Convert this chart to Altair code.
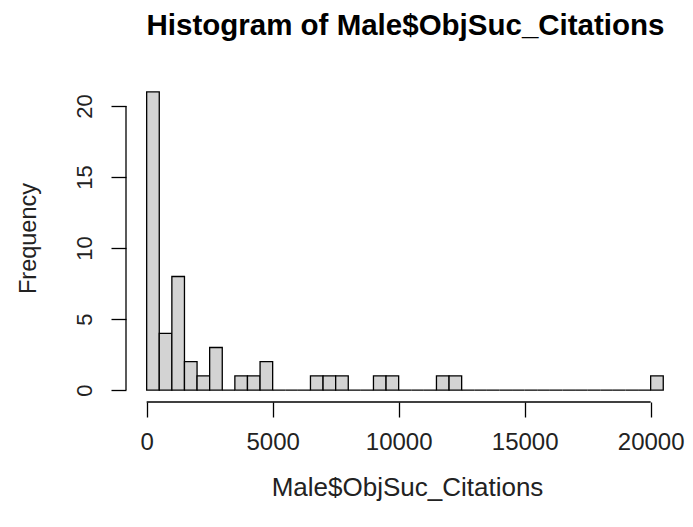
import altair as alt
import pandas as pd

# Histogram bins (width 500) and counts
bin_width = 500
counts = [21, 4, 8, 2, 1, 3, 0, 1, 1, 2,
          0, 0, 0, 1, 1, 1, 0, 0, 1, 1,
          0, 0, 0, 1, 1, 0, 0, 0, 0, 0,
          0, 0, 0, 0, 0, 0, 0, 0, 0, 0,
          1]
bin_start = [i * bin_width for i in range(len(counts))]
x_ticks = [0, 5000, 10000, 15000, 20000]
y_ticks = [0, 5, 10, 15, 20]

df = pd.DataFrame({
    "start": bin_start,
    "end": [s + bin_width for s in bin_start],
    "count": counts,
})

W, H = 559, 322
FONT = "Liberation Sans"
TXT = "#222222"

xscale = alt.Scale(domain=[-820, 21363], nice=False, zero=False)
yscale = alt.Scale(domain=[-0.84, 21.84], nice=False, zero=False)

bars = alt.Chart(df).mark_rect(
    fill="#D3D3D3", stroke="black", strokeWidth=1.3
).encode(
    x=alt.X("start:Q", scale=xscale,
            axis=alt.Axis(values=x_ticks, format="d", domain=False, grid=False,
                          tickSize=15, tickColor="black", tickWidth=1.3,
                          labelFontSize=24, labelFont=FONT, labelColor=TXT,
                          labelPadding=13, labelFlush=False,
                          title="Male$ObjSuc_Citations", titleFont=FONT,
                          titleFontSize=26, titleFontWeight="normal",
                          titleColor=TXT, titleX=281, titleY=85,
                          titleBaseline="middle", titleAlign="center")),
    x2="end:Q",
    y=alt.Y("count:Q", scale=yscale,
            axis=alt.Axis(values=y_ticks, format="d", domain=False, grid=False,
                          tickSize=15, tickColor="black", tickWidth=1.3,
                          labelFontSize=22, labelFont=FONT, labelColor=TXT,
                          labelAngle=270, labelAlign="center",
                          labelBaseline="alphabetic", labelPadding=20,
                          title="Frequency", titleFont=FONT,
                          titleFontSize=23.5, titleFontWeight="normal",
                          titleColor=TXT, titleX=-91, titleY=158,
                          titleAngle=270, titleBaseline="alphabetic",
                          titleAlign="center")),
    y2=alt.datum(0),
)

xaxis_df = pd.DataFrame({"a": [x_ticks[0]], "b": [x_ticks[-1]]})
yaxis_df = pd.DataFrame({"a": [y_ticks[0]], "b": [y_ticks[-1]]})

xline = alt.Chart(xaxis_df).mark_rule(color="black", strokeWidth=1.3).encode(
    x=alt.X("a:Q", scale=xscale), x2="b:Q", y=alt.value(H)
)
yline = alt.Chart(yaxis_df).mark_rule(color="black", strokeWidth=1.3).encode(
    y=alt.Y("a:Q", scale=yscale), y2="b:Q", x=alt.value(0)
)

chart = alt.layer(bars, xline, yline).properties(
    width=W, height=H,
    title=alt.TitleParams("Histogram of Male$ObjSuc_Citations", font=FONT,
                          fontSize=29.5, fontWeight="bold", color="black",
                          anchor="middle", frame="group", offset=39),
    autosize=alt.AutoSizeParams(type="none"),
    padding={"left": 118, "top": 72, "right": 0, "bottom": 100},
).configure(background="white").configure_view(strokeWidth=0, stroke=None)

chart.save("out.html", embed_options={"renderer": "svg", "actions": False})
